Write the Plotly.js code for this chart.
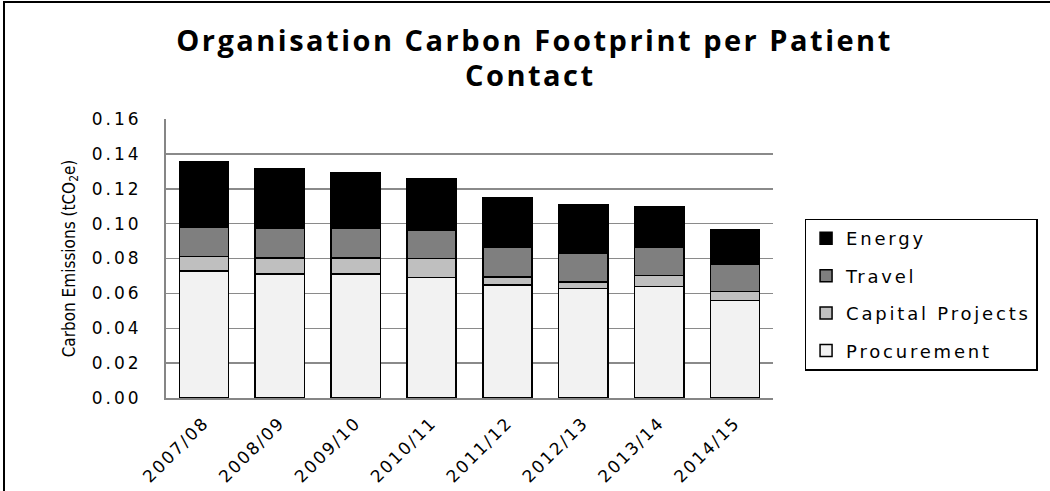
<!DOCTYPE html>
<html>
<head>
<meta charset="utf-8">
<script src="https://cdn.plot.ly/plotly-3.0.1.min.js"></script>
<style>
  html, body { margin: 0; padding: 0; background: #fff; }
  #wrap { position: relative; width: 1050px; height: 491px; overflow: hidden; }
  #chart { width: 1050px; height: 491px; }
  #frame { position: absolute; left: 3px; top: 1px; width: 1060px; height: 600px;
           border-left: 2px solid #000; border-top: 2px solid #000; pointer-events: none; }
  .gtitle, .annotation-text { letter-spacing: 2.5px; }
  .ytick text { letter-spacing: 3px; }
  .xtick text { letter-spacing: 2px; }
  .legendtext { letter-spacing: 2.8px; }
</style>
</head>
<body>
<div id="wrap">
  <div id="chart"></div>
  <div id="frame"></div>
</div>
<script>
const categories = ["2007/08", "2008/09", "2009/10", "2010/11", "2011/12", "2012/13", "2013/14", "2014/15"];
const procurement = [0.0729, 0.0711, 0.0711, 0.0690, 0.0648, 0.0629, 0.0639, 0.0558];
const capitalProjects = [0.0083, 0.0092, 0.0092, 0.0109, 0.0046, 0.0037, 0.0063, 0.0052];
const travel = [0.0167, 0.0168, 0.0168, 0.0161, 0.0168, 0.0166, 0.0160, 0.0159];
const energy = [0.0378, 0.0341, 0.0323, 0.0298, 0.0285, 0.0279, 0.0232, 0.0198];
const yTicks = [0, 0.02, 0.04, 0.06, 0.08, 0.10, 0.12, 0.14, 0.16];
const titleLine1 = "Organisation Carbon Footprint per Patient";
const titleLine2 = "Contact";

const series = [
  {name: "Procurement", y: procurement, color: "#f2f2f2", rank: 4},
  {name: "Capital Projects", y: capitalProjects, color: "#bfbfbf", rank: 3},
  {name: "Travel", y: travel, color: "#7f7f7f", rank: 2},
  {name: "Energy", y: energy, color: "#000000", rank: 1}
];

const traces = series.map(s => ({
  type: "bar",
  name: s.name,
  x: categories,
  y: s.y,
  legendgroup: s.name,
  legendrank: s.rank,
  marker: {color: s.color, line: {color: "#000", width: 1.5}},
  hoverinfo: "x+y+name"
}));

const titleFont = {family: "Open Sans", size: 29, color: "#000", weight: "bold"};

const layout = {
  width: 1050,
  height: 491,
  margin: {l: 166, r: 272, t: 119, b: 93},
  paper_bgcolor: "#fff",
  plot_bgcolor: "#fff",
  barmode: "stack",
  bargap: 0.35,
  showlegend: true,
  title: {
    text: titleLine1,
    font: titleFont,
    x: 0.509, xanchor: "center",
    y: 0.917, yanchor: "middle"
  },
  annotations: [{
    text: titleLine2,
    font: titleFont,
    xref: "paper", yref: "paper",
    x: 0.6005, xanchor: "center",
    y: 1.158, yanchor: "middle",
    showarrow: false
  }],
  font: {family: "DejaVu Sans", color: "#000"},
  xaxis: {
    type: "category",
    tickangle: -45,
    tickfont: {family: "DejaVu Sans", size: 17, color: "#000"},
    showline: true, linecolor: "#868686", linewidth: 2,
    ticks: "", showgrid: false, zeroline: false,
    ticklabelstandoff: 6,
    fixedrange: true
  },
  yaxis: {
    range: [0, 0.16],
    tickvals: yTicks,
    tickformat: ".2f",
    tickfont: {family: "DejaVu Sans", size: 17, color: "#000"},
    ticklabelstandoff: 19,
    showline: true, linecolor: "#868686", linewidth: 2,
    showgrid: true, gridcolor: "#8a8a8a", gridwidth: 1.5,
    zeroline: false, ticks: "",
    title: {
      text: "Carbon Emissions (tCO<sub>2</sub>e)",
      font: {family: "Liberation Sans Narrow, DejaVu Sans Condensed, Liberation Sans", size: 17, color: "#000"},
      standoff: 12
    },
    fixedrange: true
  },
  legend: {
    x: 1.052, xanchor: "left",
    y: 0.643, yanchor: "top",
    traceorder: "grouped",
    tracegroupgap: 11,
    bordercolor: "#000", borderwidth: 1.5,
    bgcolor: "#fff",
    font: {family: "DejaVu Sans", size: 18, color: "#000"}
  }
};

Plotly.newPlot("chart", traces, layout, {displayModeBar: false, staticPlot: true});
</script>
</body>
</html>
